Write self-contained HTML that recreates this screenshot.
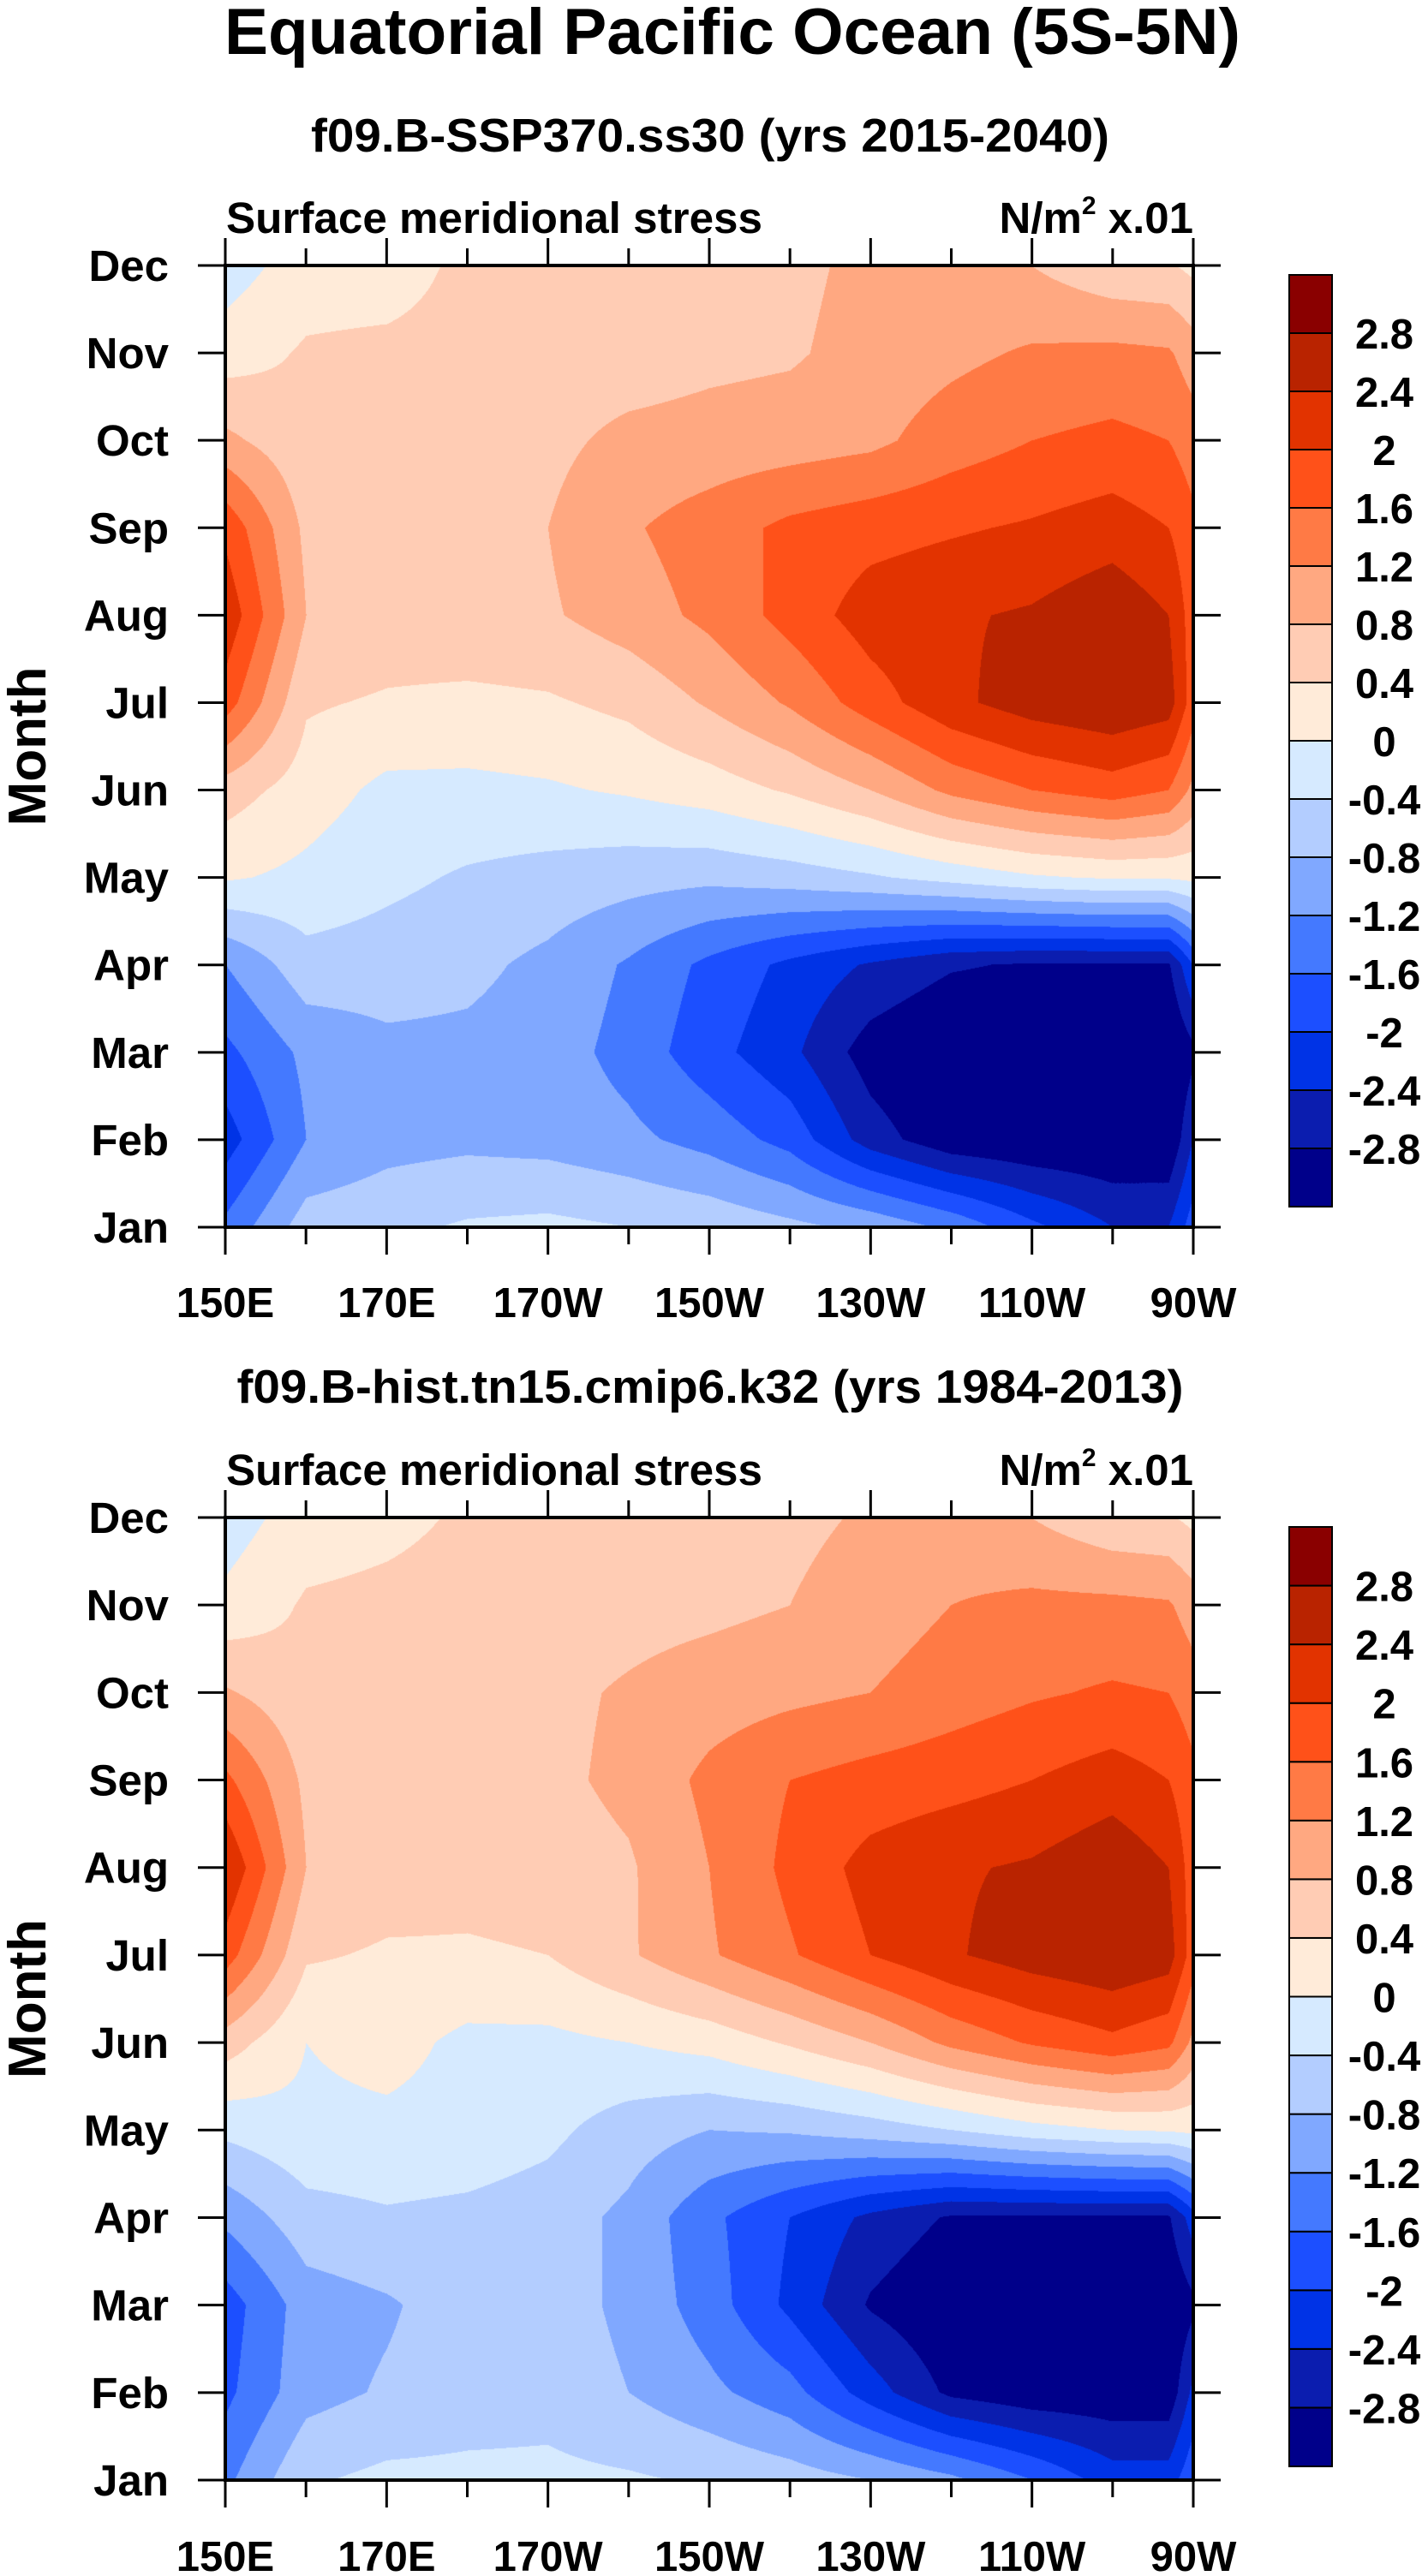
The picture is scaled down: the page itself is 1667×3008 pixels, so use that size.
<!DOCTYPE html>
<html><head><meta charset="utf-8"><style>
html,body{margin:0;padding:0;background:#fff;}
#wrap{position:relative;width:1667px;height:3008px;overflow:hidden;}
canvas{position:absolute;}
svg{position:absolute;left:0;top:0;}
text{font-family:"Liberation Sans",sans-serif;font-weight:bold;fill:#000;}
</style></head><body>
<div id="wrap">
<canvas id="c1" width="1130" height="1123" style="left:263px;top:310px"></canvas>
<canvas id="c2" width="1130" height="1124" style="left:263px;top:1772px"></canvas>
<svg id="svg" width="1667" height="3008">
<text x="855" y="63" font-size="76" text-anchor="middle" textLength="1186" lengthAdjust="spacingAndGlyphs">Equatorial Pacific Ocean (5S-5N)</text>
<text x="829" y="177" font-size="55" text-anchor="middle" textLength="932" lengthAdjust="spacingAndGlyphs">f09.B-SSP370.ss30 (yrs 2015-2040)</text>
<text x="829" y="1638" font-size="55" text-anchor="middle" textLength="1105" lengthAdjust="spacingAndGlyphs">f09.B-hist.tn15.cmip6.k32 (yrs 1984-2013)</text>
</svg>
</div>
<script>
// ---- data ----
var months = ["Jan","Feb","Mar","Apr","May","Jun","Jul","Aug","Sep","Oct","Nov","Dec"];
var lons = [150,160,170,180,190,200,210,220,230,240,250,260,267,270];
var xTickLabels = ["150E","170E","170W","150W","130W","110W","90W"];
var xTickLons = [150,170,190,210,230,250,270];
var lonTicks = [150,160,170,180,190,200,210,220,230,240,250,260,270];
var levels = [-2.8,-2.4,-2,-1.6,-1.2,-0.8,-0.4,0,0.4,0.8,1.2,1.6,2,2.4,2.8];
var levelLabels = ["-2.8","-2.4","-2","-1.6","-1.2","-0.8","-0.4","0","0.4","0.8","1.2","1.6","2","2.4","2.8"];
var colors = ["#00008A","#0B1DAF","#0033E6","#1C4FFF","#4479FF","#80A8FF","#B3CDFF","#D6EAFF","#FFEBD9","#FFCCB4","#FFA881","#FF7A45","#FF5119","#E23300","#B92300","#8A0000"];
// rows Jan..Dec, columns at lons
var ssp370 = [
 [-1.5,-0.6,-0.5,-0.35,-0.3,-0.4,-0.5,-0.7,-0.9,-1.3,-1.9,-2.4,-2.4,-1.8],
 [-2.2,-1.2,-0.95,-0.9,-0.95,-1.1,-1.35,-1.75,-2.6,-3.1,-3.2,-3.2,-3.2,-2.4],
 [-1.7,-1.1,-0.9,-0.9,-1.0,-1.35,-1.85,-2.3,-3.0,-3.3,-3.3,-3.3,-3.3,-2.9],
 [-1.2,-0.55,-0.6,-0.7,-0.9,-1.25,-1.7,-2.1,-2.45,-2.75,-2.85,-2.85,-2.85,-2.0],
 [0.05,-0.1,-0.3,-0.45,-0.55,-0.65,-0.7,-0.6,-0.45,-0.25,-0.05,0.05,0.05,0.1],
 [0.6,0.2,-0.1,-0.1,-0.05,0.05,0.2,0.45,0.8,1.3,1.6,1.8,1.6,1.1],
 [1.8,0.45,0.35,0.3,0.35,0.5,0.85,1.25,1.8,2.3,2.6,2.75,2.6,1.8],
 [2.3,0.8,0.65,0.7,0.75,1.0,1.3,1.75,2.2,2.35,2.45,2.7,2.4,1.8],
 [1.9,0.7,0.6,0.65,0.8,1.15,1.4,1.7,1.85,1.95,2.05,2.2,2.0,1.7],
 [0.9,0.5,0.5,0.6,0.7,0.9,0.95,1.0,1.1,1.4,1.6,1.7,1.6,1.4],
 [0.2,0.45,0.5,0.55,0.6,0.6,0.7,0.75,0.95,1.1,1.25,1.3,1.25,1.0],
 [-0.2,0.2,0.2,0.5,0.6,0.6,0.7,0.7,0.9,1.0,0.8,0.5,0.45,0.3]
];
var hist = [
 [-1.3,-0.45,-0.3,-0.3,-0.3,-0.35,-0.45,-0.6,-0.8,-1.1,-1.6,-2.2,-2.2,-1.7],
 [-1.7,-0.95,-0.75,-0.6,-0.55,-0.8,-1.1,-1.45,-2.2,-2.9,-3.1,-3.1,-3.1,-2.3],
 [-1.8,-1.0,-0.85,-0.6,-0.6,-0.9,-1.4,-2.1,-2.85,-3.2,-3.2,-3.2,-3.2,-2.9],
 [-1.1,-0.55,-0.45,-0.5,-0.6,-0.9,-1.5,-2.0,-2.5,-2.85,-2.85,-2.85,-2.85,-2.2],
 [-0.3,-0.1,-0.1,-0.15,-0.3,-0.6,-0.8,-0.75,-0.6,-0.4,-0.15,0.0,0.05,0.1],
 [0.6,0.0,0.15,-0.1,-0.1,0.0,0.15,0.45,0.8,1.3,1.65,1.9,1.7,1.1],
 [1.8,0.45,0.35,0.35,0.4,0.75,1.15,1.55,2.0,2.35,2.6,2.75,2.6,1.8],
 [2.4,0.8,0.6,0.55,0.6,0.75,1.2,1.7,2.15,2.35,2.45,2.7,2.4,1.8],
 [1.7,0.7,0.6,0.6,0.7,0.9,1.3,1.6,1.75,1.85,2.0,2.2,2.0,1.7],
 [0.85,0.5,0.55,0.6,0.7,0.85,1.0,1.1,1.2,1.4,1.55,1.65,1.6,1.4],
 [0.1,0.45,0.5,0.55,0.6,0.65,0.7,0.8,1.0,1.2,1.3,1.3,1.25,1.0],
 [-0.2,0.2,0.3,0.45,0.5,0.55,0.6,0.7,0.85,1.0,0.8,0.5,0.45,0.3]
];
// ---- layout ----
var L = 263, R = 1393;
var panels = [
 {top:310, bot:1433, data:ssp370, canvas:"c1", cbTop:321, cbBot:1409, label:1538},
 {top:1772, bot:2896, data:hist, canvas:"c2", cbTop:1783, cbBot:2880, label:3002}
];
var NS = "http://www.w3.org/2000/svg";
var svg = document.getElementById("svg");
function el(tag, attrs, parent){
  var e = document.createElementNS(NS, tag);
  for (var k in attrs) e.setAttribute(k, attrs[k]);
  (parent||svg).appendChild(e);
  return e;
}
function hex(c){return [parseInt(c.substr(1,2),16),parseInt(c.substr(3,2),16),parseInt(c.substr(5,2),16)];}
var rgb = colors.map(hex);
function binOf(v){
  var i = 0;
  while (i < levels.length && v >= levels[i]) i++;
  return i;
}
var LON0 = lons[0], LON1 = lons[lons.length-1];
function xScale(lon){ return L + (lon - LON0)/(LON1-LON0)*(R-L); }
function yScale(p, mIdx){ return p.bot - mIdx/(months.length-1)*(p.bot-p.top); }

panels.forEach(function(p){
  var cv = document.getElementById(p.canvas);
  var ctx = cv.getContext("2d");
  var W = cv.width, H = cv.height;
  var img = ctx.createImageData(W, H);
  var ny = months.length-1;
  var colI = [], colT = [];
  for (var px=0; px<W; px++){
    var lon = LON0 + px/(W-1)*(LON1-LON0);
    var i = 0;
    while (i < lons.length-2 && lon > lons[i+1]) i++;
    colI.push(i); colT.push((lon-lons[i])/(lons[i+1]-lons[i]));
  }
  var d = p.data;
  for (var py=0; py<H; py++){
    var fy = (H-1-py)/(H-1)*ny;
    var j = Math.min(ny-1, Math.floor(fy)), ty = fy-j;
    for (var px=0; px<W; px++){
      var i = colI[px], tx = colT[px];
      var v = d[j][i]*(1-tx)*(1-ty) + d[j][i+1]*tx*(1-ty) + d[j+1][i]*(1-tx)*ty + d[j+1][i+1]*tx*ty;
      var c = rgb[binOf(v)];
      var o = (py*W+px)*4;
      img.data[o]=c[0]; img.data[o+1]=c[1]; img.data[o+2]=c[2]; img.data[o+3]=255;
    }
  }
  ctx.putImageData(img,0,0);

  var t1 = el("text",{x:264,y:p.top-38,"font-size":51,textLength:626,lengthAdjust:"spacingAndGlyphs"});
  t1.textContent = "Surface meridional stress";
  
  
  var t2 = el("text",{x:R,y:p.top-38,"font-size":51,"text-anchor":"end"});
  
  
  var s1 = document.createElementNS(NS,"tspan"); s1.textContent="N/m"; t2.appendChild(s1);
  var s2 = document.createElementNS(NS,"tspan"); s2.textContent="2"; s2.setAttribute("font-size","30"); s2.setAttribute("dy","-22"); t2.appendChild(s2);
  var s3 = document.createElementNS(NS,"tspan"); s3.textContent=" x.01"; s3.setAttribute("dy","22"); t2.appendChild(s3);

  var fr = el("rect",{x:L,y:p.top,width:R-L,height:p.bot-p.top,fill:"none",stroke:"#000","stroke-width":4});
  
  

  months.forEach(function(m, k){
    var y = yScale(p, k);
    var tk = el("path",{d:"M"+(L-32)+" "+y+"H"+L+"M"+R+" "+y+"H"+(R+32),stroke:"#000","stroke-width":3});
    
    
    var lb = el("text",{x:197,y:y+18,"font-size":51,"text-anchor":"end"});
    lb.textContent = m;
    
    
  });
  lonTicks.forEach(function(lon, k){
    var x = xScale(lon);
    var len = (k%2===0) ? 32 : 20;
    var tk = el("path",{d:"M"+x+" "+p.bot+"V"+(p.bot+len)+"M"+x+" "+p.top+"V"+(p.top-len),stroke:"#000","stroke-width":3});
    
    
  });
  xTickLabels.forEach(function(s, k){
    var lb = el("text",{x:xScale(xTickLons[k]),y:p.label,"font-size":49,"text-anchor":"middle"});
    lb.textContent = s;
    
    
  });
  var cy = (p.top+p.bot)/2;
  var yt = el("text",{x:0,y:0,"font-size":62,"text-anchor":"middle",transform:"translate(53,"+cy+") rotate(-90)"});
  yt.textContent = "Month";
  
  

  var n = colors.length, bh = (p.cbBot-p.cbTop)/n;
  for (var b=0; b<n; b++){
    var r = el("rect",{x:1505,y:p.cbBot-(b+1)*bh,width:50,height:bh,fill:colors[b],stroke:"#000","stroke-width":2});
    
    
  }
  levelLabels.forEach(function(s, k){
    var y = p.cbBot-(k+1)*bh;
    var lb = el("text",{x:1616,y:y+18,"font-size":49,"text-anchor":"middle"});
    lb.textContent = s;
    
    
  });
});
</script>
</body></html>
